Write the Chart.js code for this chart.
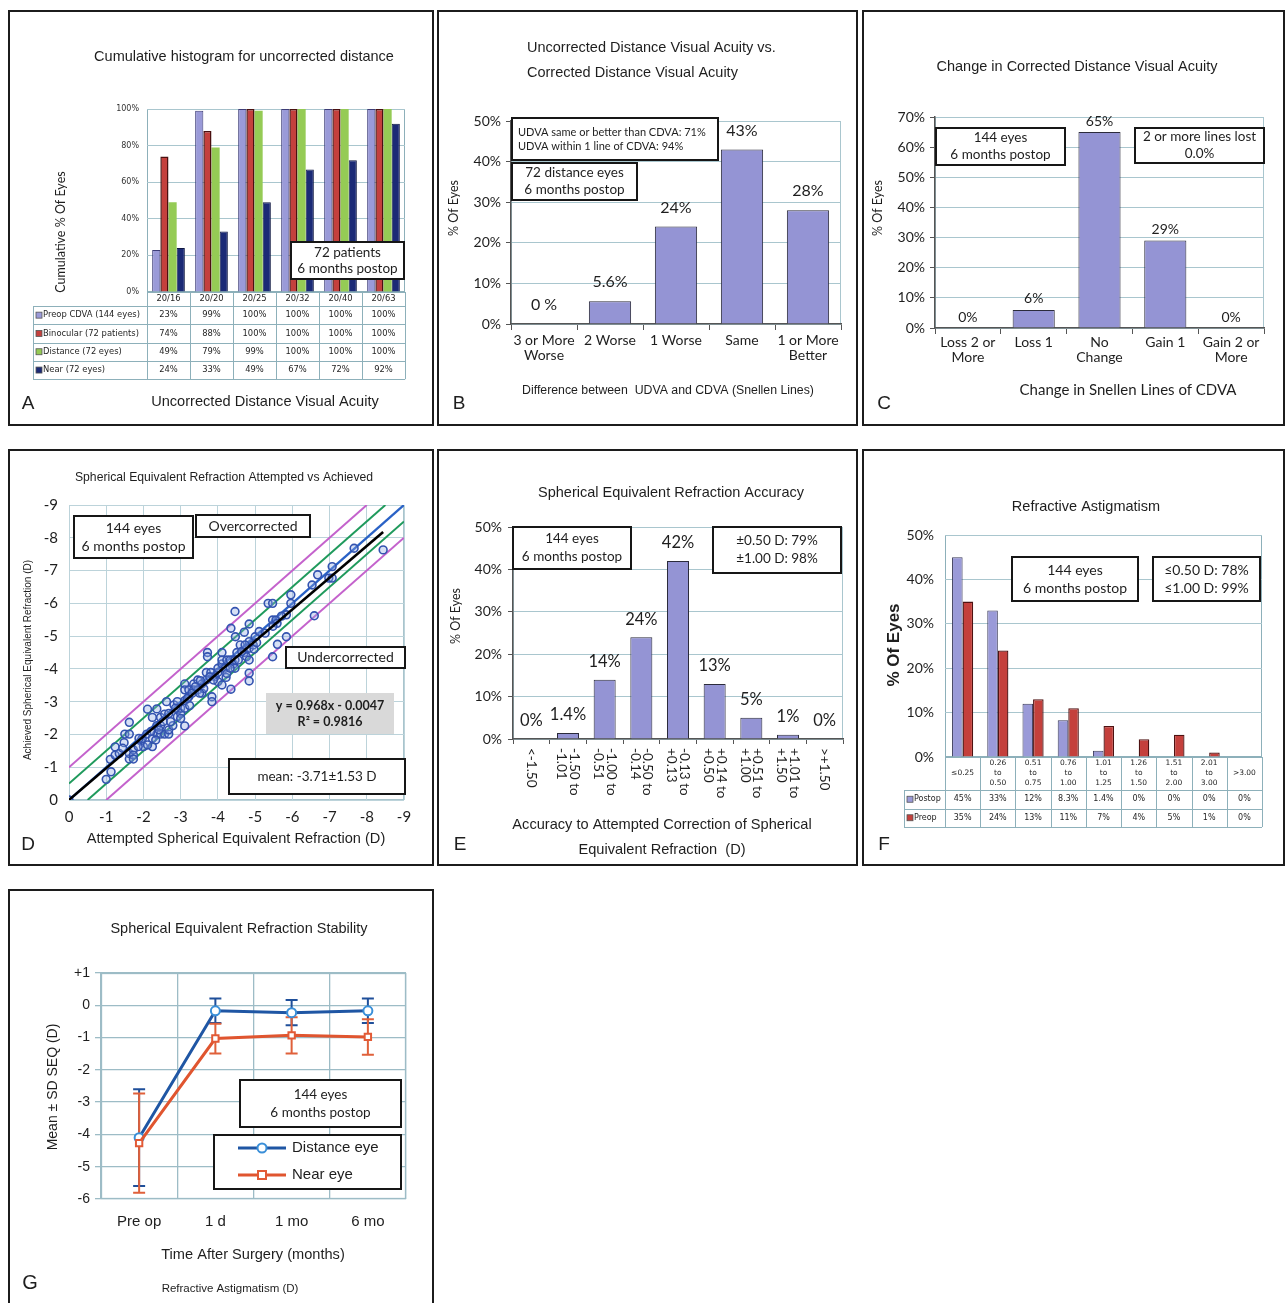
<!DOCTYPE html>
<html>
<head>
<meta charset="utf-8">
<script src="https://cdn.jsdelivr.net/npm/chart.js@4.4.1/dist/chart.umd.min.js"></script>
<style>
  html, body { margin: 0; padding: 0; background: #fff; }
  #page { position: relative; width: 1285px; height: 1303px; overflow: hidden; background: #fff; }
  .panel { position: absolute; box-sizing: border-box; border: 2px solid #1c1c1c; background: #fff; }
  canvas.chart { position: absolute; }
</style>
</head>
<body>
<div id="page"></div>
<script>
// ---------- A: cumulative uncorrected distance acuity ----------
const acuityLines   = ['20/16', '20/20', '20/25', '20/32', '20/40', '20/63'];
const preopCdva     = [23, 99, 100, 100, 100, 100];
const binocular     = [74, 88, 100, 100, 100, 100];
const distanceEyes  = [49, 79, 99, 100, 100, 100];
const nearEyes      = [24, 33, 49, 67, 72, 92];

// ---------- B: UDVA vs CDVA ----------
const lineDiffLabels = [['3 or More', 'Worse'], '2 Worse', '1 Worse', 'Same', ['1 or More', 'Better']];
const lineDiffPct    = [0, 5.6, 24, 43, 28];
const lineDiffText   = ['0 %', '5.6%', '24%', '43%', '28%'];

// ---------- C: change in CDVA ----------
const cdvaChangeLabels = [['Loss 2 or', 'More'], 'Loss 1', ['No', 'Change'], 'Gain 1', ['Gain 2 or', 'More']];
const cdvaChangePct    = [0, 6, 65, 29, 0];

// ---------- D: attempted vs achieved SE (D) ----------
const seAttempted = [
  0, -1.00, -1.13, -1.11, -1.24, -1.24, -1.35, -1.48, -1.50, -1.62, -1.62, -1.62, -1.62, -1.73, -1.73, -1.73,
  -1.44, -1.93, -2.00, -1.97, -2.09, -2.11, -2.24, -2.24, -2.24, -2.36, -2.36, -2.36, -2.46, -2.46, -2.46, -2.57,
  -2.57, -2.68, -2.68, -2.68, -2.79, -2.62, -2.82, -2.91, -2.91, -3.00, -3.00, -3.00, -3.11, -3.11, -3.11, -3.11,
  -3.11, -3.22, -3.22, -3.35, -3.35, -3.24, -3.46, -3.46, -3.57, -3.57, -3.62, -3.69, -3.69, -3.72, -3.72, -3.81,
  -3.84, -3.84, -3.93, -4.00, -4.00, -4.00, -4.11, -4.11, -4.11, -4.11, -4.20, -4.22, -4.24, -4.33, -4.35, -4.35,
  -4.42, -4.46, -4.46, -4.47, -4.46, -4.51, -4.60, -4.71, -4.71, -4.77, -4.84, -4.84, -4.84, -4.84, -4.84, -4.84,
  -4.95, -4.97, -5.00, -5.11, -5.35, -5.47, -5.47, -5.47, -5.56, -5.59, -5.60, -5.84, -5.84, -5.96, -5.96, -6.53,
  -6.59, -6.68, -6.98, -7.07, -7.07, -7.66, -8.44, -2.20, -2.33, -2.11, -1.88, -1.86, -2.42, -2.53, -2.73, -2.86,
  -3.18, -3.31, -3.40, -3.53, -3.51, -3.78, -3.88, -4.24, -4.33, -4.55, -4.64, -4.73, -5.04, -5.27, -5.48, -5.71
];
const seAchieved = [
  0, -0.63, -0.86, -1.24, -1.37, -1.62, -1.42, -1.75, -2.01, -2.01, -2.37, -1.25, -1.42, -1.53, -1.37, -1.25,
  -1.58, -1.80, -1.63, -1.88, -2.01, -2.77, -1.63, -1.88, -2.52, -2.01, -2.78, -2.27, -2.01, -2.27, -2.52, -2.01,
  -2.62, -2.01, -2.14, -2.64, -2.27, -3.00, -2.90, -2.54, -3.00, -2.64, -2.80, -2.49, -3.03, -2.80, -2.26, -3.54,
  -3.36, -3.36, -3.15, -3.54, -3.36, -2.88, -3.36, -3.66, -3.26, -3.54, -3.40, -3.66, -3.89, -4.50, -4.37, -3.89,
  -3.15, -3.00, -3.76, -3.89, -4.02, -3.61, -3.51, -4.15, -4.27, -4.50, -4.02, -3.74, -4.27, -4.27, -5.24, -3.38,
  -4.15, -4.02, -5.75, -4.98, -4.27, -4.50, -4.73, -5.12, -4.50, -4.37, -5.37, -4.83, -4.63, -4.27, -3.87, -3.63,
  -4.73, -4.60, -4.98, -5.14, -6.00, -6.00, -5.49, -4.37, -5.49, -5.39, -4.75, -5.65, -4.98, -6.00, -6.26, -6.56,
  -5.62, -6.87, -6.77, -7.12, -6.77, -7.68, -7.63, -2.09, -1.83, -1.68, -1.88, -1.63, -2.14, -2.39, -2.39, -2.80,
  -3.10, -3.26, -3.46, -3.64, -3.26, -3.76, -3.66, -3.86, -4.02, -4.27, -4.53, -4.73, -4.80, -5.09, -5.30, -5.61
];
const regressionSlope = 0.968;
const regressionIntercept = -0.0047;
const rSquared = 0.9816;
const toleranceBands = [0.5, 1.0];   // ±D around the identity line

// ---------- E: SE accuracy ----------
const accuracyBins = [['<-1.50'], ['-1.50 to', '-1.01'], ['-1.00 to', '-0.51'], ['-0.50 to', '-0.14'],
  ['-0.13 to', '+0.13'], ['+0.14 to', '+0.50'], ['+0.51 to', '+1.00'], ['+1.01 to', '+1.50'], ['>+1.50']];
const accuracyPct = [0, 1.4, 14, 24, 42, 13, 5, 1, 0];

// ---------- F: refractive astigmatism ----------
const astigBins = [['≤0.25'], ['0.26', 'to', '0.50'], ['0.51', 'to', '0.75'], ['0.76', 'to', '1.00'],
  ['1.01', 'to', '1.25'], ['1.26', 'to', '1.50'], ['1.51', 'to', '2.00'], ['2.01', 'to', '3.00'], ['>3.00']];
const astigPostop = [45, 33, 12, 8.3, 1.4, 0, 0, 0, 0];
const astigPreop  = [35, 24, 13, 11, 7, 4, 5, 1, 0];

// ---------- G: SE stability ----------
const timePoints = ['Pre op', '1 d', '1 mo', '6 mo'];
const distMean = [-4.1, -0.17, -0.23, -0.17];
const distSD   = [1.5, 0.38, 0.39, 0.38];
const nearMean = [-4.27, -1.03, -0.93, -0.98];
const nearSD   = [1.54, 0.46, 0.56, 0.55];

// ================= layout & helpers =================
const LATO = 'Lato, "Open Sans", sans-serif';
const ARIAL = '"Liberation Sans", Arial, sans-serif';
const DJV = '"DejaVu Sans", sans-serif';
const INK = '#1e1e1e';
const GRID = '#a9c6ce';
const AXIS = '#555';
const LAV = '#9494d4';
const TITLE = '14.5px ' + ARIAL;

const PANELS = {
  A: {x: 8,   y: 10,  w: 426, h: 416},
  B: {x: 437, y: 10,  w: 421, h: 416},
  C: {x: 862, y: 10,  w: 423, h: 416},
  D: {x: 8,   y: 449, w: 426, h: 417},
  E: {x: 437, y: 449, w: 421, h: 417},
  F: {x: 862, y: 449, w: 423, h: 417},
  G: {x: 8,   y: 889, w: 426, h: 420}
};
const AREAS = {
  A: {l: 147, t: 109, r: 405,  b: 292},
  B: {l: 511, t: 121, r: 841,  b: 324},
  C: {l: 935, t: 117, r: 1264, b: 328},
  D: {l: 69,  t: 505, r: 404,  b: 800},
  E: {l: 513, t: 527, r: 843,  b: 739},
  F: {l: 945, t: 535, r: 1262, b: 757},
  G: {l: 101, t: 973, r: 406,  b: 1199}
};

Chart.defaults.font.family = LATO;
Chart.defaults.color = INK;

function makePanel(key) {
  const p = PANELS[key];
  const page = document.getElementById('page');
  const div = document.createElement('div');
  div.className = 'panel';
  Object.assign(div.style, {left: p.x + 'px', top: p.y + 'px', width: p.w + 'px', height: p.h + 'px'});
  page.appendChild(div);
  const cv = document.createElement('canvas');
  cv.className = 'chart';
  cv.width = p.w; cv.height = p.h;
  Object.assign(cv.style, {left: p.x + 'px', top: p.y + 'px', width: p.w + 'px', height: p.h + 'px'});
  page.appendChild(cv);
  return cv;
}
function zeroPad(s) { s.paddingLeft = 0; s.paddingRight = 0; s.paddingTop = 0; s.paddingBottom = 0; }
function layoutFor(key) {
  const p = PANELS[key], a = AREAS[key];
  return {padding: {left: 0, top: a.t - p.y, right: (p.x + p.w) - a.r, bottom: 0}};
}
function fitY(key) { const p = PANELS[key], a = AREAS[key]; return s => { s.width = a.l - p.x; zeroPad(s); }; }
function fitX(key) { const p = PANELS[key], a = AREAS[key]; return s => { s.height = (p.y + p.h) - a.b; zeroPad(s); }; }

function drawText(ctx, t, ox, oy) {
  ctx.save();
  ctx.font = t.font || TITLE;
  ctx.fillStyle = t.color || INK;
  ctx.textAlign = t.align || 'center';
  ctx.textBaseline = 'middle';
  ctx.translate(t.x - ox, t.y - oy);
  if (t.rot) ctx.rotate(t.rot * Math.PI / 180);
  ctx.fillText(t.t, 0, 0);
  ctx.restore();
}
function drawBox(ctx, b, ox, oy) {
  ctx.save();
  const x = b.x - ox, y = b.y - oy;
  ctx.fillStyle = b.fill || '#fff';
  ctx.fillRect(x, y, b.w, b.h);
  if (b.border !== false) {
    ctx.lineWidth = 2; ctx.strokeStyle = '#161616';
    ctx.strokeRect(x, y, b.w, b.h);
  }
  ctx.fillStyle = INK;
  ctx.font = b.font || ('13.5px ' + LATO);
  ctx.textAlign = b.align || 'center'; ctx.textBaseline = 'middle';
  const tx = b.align === 'left' ? x + (b.inset || 6) : x + b.w / 2;
  const n = b.lines.length, lh = b.lh || 17;
  b.lines.forEach((s, i) => ctx.fillText(s, tx, y + b.h / 2 + (i - (n - 1) / 2) * lh));
  ctx.restore();
}
// per-chart decoration plugin: plot frame, free text, annotation boxes and custom layers
function deco(key, spec) {
  const p = PANELS[key];
  return {
    id: 'deco' + key,
    beforeDraw(chart) {
      if (!spec.frame) return;
      const a = chart.chartArea, ctx = chart.ctx;
      ctx.save(); ctx.strokeStyle = spec.frame; ctx.lineWidth = spec.frameWidth || 1;
      ctx.strokeRect(Math.round(a.left) + 0.5, Math.round(a.top) + 0.5, Math.round(a.width) - 1, Math.round(a.height) - 1);
      ctx.restore();
    },
    beforeDatasetsDraw(chart) { if (spec.under) spec.under(chart, chart.ctx); },
    afterDatasetsDraw(chart) { if (spec.over) spec.over(chart, chart.ctx); },
    afterDraw(chart) {
      const ctx = chart.ctx;
      (spec.boxes || []).forEach(b => drawBox(ctx, b, p.x, p.y));
      (spec.texts || []).forEach(t => drawText(ctx, t, p.x, p.y));
      if (spec.last) spec.last(chart, ctx, p.x, p.y);
    }
  };
}
function barValueLabels(chart, ctx, dsIndex, texts, font, offset) {
  const meta = chart.getDatasetMeta(dsIndex);
  ctx.save();
  ctx.font = font; ctx.fillStyle = INK; ctx.textAlign = 'center'; ctx.textBaseline = 'middle';
  meta.data.forEach((bar, i) => ctx.fillText(texts[i], bar.x, bar.y - offset));
  ctx.restore();
}
// data table under a category axis, rows taken from the chart's datasets
function dataTable(chart, ctx, t, ox, oy) {
  const xs = chart.scales.x, a = chart.chartArea;
  const labels = chart.data.labels, n = labels.length;
  const cw = (xs.right - xs.left) / n;
  const left = t.left - ox, headTop = a.bottom, bodyTop = t.bodyTop - oy, rowH = t.rowH;
  const sets = chart.data.datasets;
  const bottom = bodyTop + rowH * sets.length;
  ctx.save();
  ctx.strokeStyle = t.line; ctx.lineWidth = 1;
  ctx.beginPath();
  for (let i = 0; i <= n; i++) {
    const x = Math.round(xs.left + i * cw) + 0.5;
    ctx.moveTo(x, headTop); ctx.lineTo(x, bottom);
  }
  ctx.moveTo(Math.round(left) + 0.5, bodyTop); ctx.lineTo(Math.round(left) + 0.5, bottom);
  for (let r = 0; r <= sets.length; r++) {
    const y = Math.round(bodyTop + r * rowH) + 0.5;
    ctx.moveTo(left, y); ctx.lineTo(xs.right, y);
  }
  ctx.moveTo(xs.left, Math.round(headTop) + 0.5); ctx.lineTo(xs.right, Math.round(headTop) + 0.5);
  ctx.stroke();
  ctx.fillStyle = INK; ctx.textBaseline = 'middle'; ctx.textAlign = 'center';
  ctx.font = t.headFont;
  labels.forEach((lab, i) => {
    const lines = Array.isArray(lab) ? lab : [lab];
    const cx = xs.left + (i + 0.5) * cw, cy = (headTop + bodyTop) / 2;
    lines.forEach((s, k) => ctx.fillText(s, cx, cy + (k - (lines.length - 1) / 2) * t.headLH));
  });
  ctx.font = t.font;
  sets.forEach((ds, r) => {
    const cy = bodyTop + (r + 0.5) * rowH;
    ctx.fillStyle = ds.backgroundColor;
    ctx.fillRect(left + 3, cy - 3, 6, 6);
    ctx.strokeStyle = t.keyEdge; ctx.lineWidth = 0.8;
    ctx.strokeRect(left + 3, cy - 3, 6, 6);
    ctx.fillStyle = INK; ctx.textAlign = 'left';
    ctx.fillText(ds.label, left + 10, cy);
    ctx.textAlign = 'center';
    ds.data.forEach((v, i) => ctx.fillText(v + '%', xs.left + (i + 0.5) * cw, cy));
  });
  ctx.restore();
}

const pct = v => v + '%';
const baseOpts = key => ({
  responsive: false, animation: false, devicePixelRatio: 1,
  layout: layoutFor(key),
  plugins: {legend: {display: false}, tooltip: {enabled: false}, title: {display: false}}
});

// ================= A =================
(function () {
  const key = 'A';
  new Chart(makePanel(key), {
    type: 'bar',
    data: {
      labels: acuityLines,
      datasets: [
        {label: 'Preop CDVA (144 eyes)', data: preopCdva, backgroundColor: '#9a9ad8', borderColor: '#3d3d78', borderWidth: 1},
        {label: 'Binocular (72 patients)', data: binocular, backgroundColor: '#c4403d', borderColor: '#4a1010', borderWidth: 1.5},
        {label: 'Distance (72 eyes)', data: distanceEyes, backgroundColor: '#95cb55', borderWidth: 0},
        {label: 'Near (72 eyes)', data: nearEyes, backgroundColor: '#1b2a76', borderColor: '#0d1640', borderWidth: 1}
      ]
    },
    options: Object.assign(baseOpts(key), {
      datasets: {bar: {categoryPercentage: 0.76, barPercentage: 1.0}},
      scales: {
        x: {offset: true, grid: {display: false}, border: {display: false}, ticks: {display: false}, afterFit: fitX(key)},
        y: {min: 0, max: 100, grid: {color: GRID, drawTicks: false}, border: {display: false},
            ticks: {stepSize: 20, callback: pct, padding: 8, font: {family: DJV, size: 8}, color: '#333'},
            afterFit: fitY(key)}
      }
    }),
    plugins: [deco(key, {
      frame: '#8db0ba',
      texts: [
        {t: 'Cumulative histogram for uncorrected distance', x: 244, y: 57},
        {t: 'Cumulative % Of Eyes', x: 61, y: 232, rot: -90, font: '12.5px ' + LATO},
        {t: 'Uncorrected Distance Visual Acuity', x: 265, y: 402, font: '14.6px ' + ARIAL},
        {t: 'A', x: 28, y: 404, font: '19px ' + ARIAL}
      ],
      boxes: [
        {x: 291, y: 242, w: 113, h: 37, lines: ['72 patients', '6 months postop'], lh: 16, font: '13.5px ' + LATO}
      ],
      last: (chart, ctx, ox, oy) => dataTable(chart, ctx, {
        left: 33, bodyTop: 306, rowH: 18.3, line: '#8db0ba', keyEdge: '#555',
        headFont: '8.4px ' + DJV, headLH: 10, font: '8.4px ' + DJV
      }, ox, oy)
    })]
  });
})();

// ================= B =================
(function () {
  const key = 'B';
  new Chart(makePanel(key), {
    type: 'bar',
    data: {labels: lineDiffLabels, datasets: [{data: lineDiffPct, backgroundColor: LAV, borderColor: '#2b2b3b', borderWidth: 1}]},
    options: Object.assign(baseOpts(key), {
      datasets: {bar: {categoryPercentage: 0.64, barPercentage: 1.0}},
      scales: {
        x: {offset: true, grid: {offset: true, drawOnChartArea: false, tickLength: 6, color: AXIS},
            border: {color: AXIS, width: 1.5},
            ticks: {font: {family: 'Lato', size: 14, lineHeight: 1.08}, color: INK, padding: 3, maxRotation: 0, autoSkip: false},
            afterFit: fitX(key)},
        y: {min: 0, max: 50, grid: {color: GRID, tickColor: AXIS, tickLength: 5}, border: {color: AXIS, width: 1.5},
            ticks: {stepSize: 10, callback: pct, padding: 5, font: {family: 'Lato', size: 14}, color: INK},
            afterFit: fitY(key)}
      }
    }),
    plugins: [deco(key, {
      frame: GRID,
      over: (chart, ctx) => barValueLabels(chart, ctx, 0, lineDiffText, '16px ' + LATO, 19),
      texts: [
        {t: 'Uncorrected Distance Visual Acuity vs.', x: 527, y: 48, align: 'left'},
        {t: 'Corrected Distance Visual Acuity', x: 527, y: 73, align: 'left'},
        {t: '% Of Eyes', x: 454, y: 208, rot: -90, font: '12.5px ' + LATO},
        {t: 'Difference between  UDVA and CDVA (Snellen Lines)', x: 668, y: 391, font: '12.3px ' + ARIAL},
        {t: 'B', x: 459, y: 404, font: '19px ' + ARIAL}
      ],
      boxes: [
        {x: 512, y: 118, w: 206, h: 42, align: 'left', inset: 6,
         lines: ['UDVA same or better than CDVA: 71%', 'UDVA within 1 line of CDVA: 94%'], lh: 14, font: '11px ' + LATO},
        {x: 512, y: 163, w: 125, h: 37, lines: ['72 distance eyes', '6 months postop'], lh: 17, font: '13.5px ' + LATO}
      ]
    })]
  });
})();

// ================= C =================
(function () {
  const key = 'C';
  new Chart(makePanel(key), {
    type: 'bar',
    data: {labels: cdvaChangeLabels, datasets: [{data: cdvaChangePct, backgroundColor: LAV, borderColor: '#2b2b3b', borderWidth: 1}]},
    options: Object.assign(baseOpts(key), {
      datasets: {bar: {categoryPercentage: 0.64, barPercentage: 1.0}},
      scales: {
        x: {offset: true, grid: {offset: true, drawOnChartArea: false, tickLength: 6, color: AXIS},
            border: {color: AXIS, width: 1.5},
            ticks: {font: {family: 'Lato', size: 14, lineHeight: 1.08}, color: INK, padding: 1, maxRotation: 0, autoSkip: false},
            afterFit: fitX(key)},
        y: {min: 0, max: 70, grid: {color: GRID, tickColor: AXIS, tickLength: 5}, border: {color: AXIS, width: 1.5},
            ticks: {stepSize: 10, callback: pct, padding: 5, font: {family: 'Lato', size: 14}, color: INK},
            afterFit: fitY(key)}
      }
    }),
    plugins: [deco(key, {
      frame: GRID,
      over: (chart, ctx) => barValueLabels(chart, ctx, 0, cdvaChangePct.map(pct), '14px ' + LATO, 11),
      texts: [
        {t: 'Change in Corrected Distance Visual Acuity', x: 1077, y: 67},
        {t: '% Of Eyes', x: 878, y: 208, rot: -90, font: '12.5px ' + LATO},
        {t: 'Change in Snellen Lines of CDVA', x: 1128, y: 390, font: '15px ' + LATO},
        {t: 'C', x: 884, y: 404, font: '19px ' + ARIAL}
      ],
      boxes: [
        {x: 936, y: 128, w: 129, h: 37, lines: ['144 eyes', '6 months postop'], lh: 17, font: '13.5px ' + LATO},
        {x: 1135, y: 128, w: 129, h: 35, lines: ['2 or more lines lost', '0.0%'], lh: 17, font: '13.5px ' + LATO}
      ]
    })]
  });
})();

// ================= D =================
(function () {
  const key = 'D';
  const points = seAttempted.map((x, i) => ({x, y: seAchieved[i]}));
  const lo = -9, hi = 0;
  // straight reference line y = x + shift, clipped to the plotted square
  const shifted = s => {
    const x0 = Math.min(hi, hi - s), x1 = Math.max(lo, lo - s);
    return [{x: x0, y: x0 + s}, {x: x1, y: x1 + s}];
  };
  const xMin = Math.min(...seAttempted);
  const regLine = [0, xMin].map(x => ({x, y: regressionSlope * x + regressionIntercept}));
  const lineDs = (data, color, width, order) => ({data, showLine: true, borderColor: color, borderWidth: width, pointRadius: 0, order});
  const MAG = '#c462cc', GRN = '#1f9a5c';
  new Chart(makePanel(key), {
    type: 'scatter',
    data: {
      datasets: [
        lineDs(regLine, '#000', 2.6, 0),
        {data: points, pointRadius: 3.9, pointBorderWidth: 1.6, pointBorderColor: '#3353b0',
         pointBackgroundColor: 'rgba(140,165,225,0.35)', order: 1},
        lineDs(shifted(0), '#2a62c6', 2.4, 2),
        lineDs(shifted(-toleranceBands[0]), GRN, 2, 3),
        lineDs(shifted(toleranceBands[0]), GRN, 2, 3),
        lineDs(shifted(-toleranceBands[1]), MAG, 2, 4),
        lineDs(shifted(toleranceBands[1]), MAG, 2, 4)
      ]
    },
    options: Object.assign(baseOpts(key), {
      scales: {
        x: {type: 'linear', min: lo, max: hi, reverse: true, grid: {color: '#bcd3da', drawTicks: false}, border: {display: false},
            ticks: {stepSize: 1, callback: v => String(v), padding: 8, font: {family: 'Lato', size: 15}, color: INK},
            afterFit: fitX(key)},
        y: {type: 'linear', min: lo, max: hi, reverse: true, grid: {color: '#bcd3da', drawTicks: false}, border: {display: false},
            ticks: {stepSize: 1, callback: v => String(v), padding: 11, font: {family: 'Lato', size: 15}, color: INK},
            afterFit: fitY(key)}
      }
    }),
    plugins: [deco(key, {
      frame: '#a9c4cc',
      texts: [
        {t: 'Spherical Equivalent Refraction Attempted vs Achieved', x: 224, y: 478, font: '12.2px ' + ARIAL},
        {t: 'Achieved Spherical Equivalent Refraction (D)', x: 28, y: 660, rot: -90, font: '10px ' + ARIAL},
        {t: 'Attempted Spherical Equivalent Refraction (D)', x: 236, y: 839, font: '14.6px ' + ARIAL},
        {t: 'D', x: 28, y: 845, font: '19px ' + ARIAL}
      ],
      boxes: [
        {x: 74, y: 516, w: 119, h: 42, lines: ['144 eyes', '6 months postop'], lh: 18, font: '14px ' + LATO},
        {x: 196, y: 515, w: 114, h: 22, lines: ['Overcorrected'], font: '14px ' + LATO},
        {x: 286, y: 647, w: 119, h: 21, lines: ['Undercorrected'], font: '14px ' + LATO},
        {x: 266, y: 693, w: 128, h: 41, fill: '#d9d9d9', border: false,
         lines: ['y = ' + regressionSlope + 'x - ' + Math.abs(regressionIntercept), 'R² = ' + rSquared], lh: 16, font: 'bold 12.5px ' + LATO},
        {x: 229, y: 759, w: 176, h: 35, lines: ['mean: -3.71±1.53 D'], font: '13.5px ' + LATO}
      ]
    })]
  });
})();

// ================= E =================
(function () {
  const key = 'E';
  const rotatedLabels = (chart, ctx, ox, oy) => {
    const xs = chart.scales.x;
    ctx.save();
    ctx.font = '13.5px ' + LATO; ctx.fillStyle = INK; ctx.textAlign = 'left'; ctx.textBaseline = 'middle';
    accuracyBins.forEach((lines, i) => {
      const x = xs.getPixelForValue(i);
      ctx.save();
      ctx.translate(x, 748 - oy);
      ctx.rotate(Math.PI / 2);
      lines.forEach((s, k) => ctx.fillText(s, 0, (k - (lines.length - 1) / 2) * 12.5));
      ctx.restore();
    });
    ctx.restore();
  };
  new Chart(makePanel(key), {
    type: 'bar',
    data: {labels: accuracyBins.map(l => l.join(' ')), datasets: [{data: accuracyPct, backgroundColor: LAV, borderColor: '#2b2b3b', borderWidth: 1}]},
    options: Object.assign(baseOpts(key), {
      datasets: {bar: {categoryPercentage: 0.6, barPercentage: 1.0}},
      scales: {
        x: {offset: true, grid: {offset: true, drawOnChartArea: false, tickLength: 5, color: AXIS},
            border: {color: AXIS, width: 1.5}, ticks: {display: false}, afterFit: fitX(key)},
        y: {min: 0, max: 50, grid: {color: GRID, tickColor: AXIS, tickLength: 5}, border: {color: AXIS, width: 1.5},
            ticks: {stepSize: 10, callback: pct, padding: 6, font: {family: 'Lato', size: 14}, color: INK},
            afterFit: fitY(key)}
      }
    }),
    plugins: [deco(key, {
      frame: GRID,
      over: (chart, ctx) => barValueLabels(chart, ctx, 0, accuracyPct.map(pct), '16.5px ' + LATO, 18),
      texts: [
        {t: 'Spherical Equivalent Refraction Accuracy', x: 671, y: 493},
        {t: '% Of Eyes', x: 456, y: 616, rot: -90, font: '12.5px ' + LATO},
        {t: 'Accuracy to Attempted Correction of Spherical', x: 662, y: 825, font: '14.6px ' + ARIAL},
        {t: 'Equivalent Refraction  (D)', x: 662, y: 850, font: '14.6px ' + ARIAL},
        {t: 'E', x: 460, y: 845, font: '19px ' + ARIAL}
      ],
      boxes: [
        {x: 513, y: 527, w: 118, h: 42, lines: ['144 eyes', '6 months postop'], lh: 18, font: '13.5px ' + LATO},
        {x: 713, y: 527, w: 128, h: 46, lines: ['±0.50 D: 79%', '±1.00 D: 98%'], lh: 18, font: '13.5px ' + LATO}
      ],
      last: rotatedLabels
    })]
  });
})();

// ================= F =================
(function () {
  const key = 'F';
  new Chart(makePanel(key), {
    type: 'bar',
    data: {
      labels: astigBins,
      datasets: [
        {label: 'Postop', data: astigPostop, backgroundColor: '#9a9ad8', borderColor: '#3a3a5a', borderWidth: 1},
        {label: 'Preop', data: astigPreop, backgroundColor: '#c4403c', borderColor: '#4e1212', borderWidth: 1.3}
      ]
    },
    options: Object.assign(baseOpts(key), {
      datasets: {bar: {categoryPercentage: 0.6, barPercentage: 1.0}},
      scales: {
        x: {offset: true, grid: {display: false}, border: {display: false}, ticks: {display: false}, afterFit: fitX(key)},
        y: {min: 0, max: 50, grid: {color: GRID, drawTicks: false}, border: {display: false},
            ticks: {stepSize: 10, callback: pct, padding: 11, font: {family: 'Lato', size: 14}, color: INK},
            afterFit: fitY(key)}
      }
    }),
    plugins: [deco(key, {
      frame: '#8db0ba',
      texts: [
        {t: 'Refractive Astigmatism', x: 1086, y: 507},
        {t: '% Of Eyes', x: 894, y: 645, rot: -90, font: 'bold 17px ' + ARIAL},
        {t: 'F', x: 884, y: 845, font: '19px ' + ARIAL}
      ],
      boxes: [
        {x: 1012, y: 557, w: 126, h: 44, lines: ['144 eyes', '6 months postop'], lh: 18, font: '14px ' + LATO},
        {x: 1153, y: 557, w: 107, h: 44, lines: ['≤0.50 D: 78%', '≤1.00 D: 99%'], lh: 18, font: '14px ' + LATO}
      ],
      last: (chart, ctx, ox, oy) => dataTable(chart, ctx, {
        left: 904, bodyTop: 790, rowH: 18.5, line: '#8db0ba', keyEdge: '#555',
        headFont: '7.5px ' + DJV, headLH: 10, font: '8px ' + DJV
      }, ox, oy)
    })]
  });
})();

// ================= G =================
(function () {
  const key = 'G';
  const BLUE = '#1f56a4', RED = '#e0552f';
  const errorBars = (chart, ctx) => {
    const ys = chart.scales.y;
    [[1, distMean, distSD, '#1f4f9a'], [0, nearMean, nearSD, '#e0603a']].forEach(([ds, m, sd, color]) => {
      const meta = chart.getDatasetMeta(ds);
      ctx.save(); ctx.strokeStyle = color; ctx.lineWidth = 2;
      meta.data.forEach((pt, i) => {
        const x = pt.x, y1 = ys.getPixelForValue(m[i] + sd[i]), y2 = ys.getPixelForValue(m[i] - sd[i]);
        ctx.beginPath();
        ctx.moveTo(x, y1); ctx.lineTo(x, y2);
        ctx.moveTo(x - 6, y1); ctx.lineTo(x + 6, y1);
        ctx.moveTo(x - 6, y2); ctx.lineTo(x + 6, y2);
        ctx.stroke();
      });
      ctx.restore();
    });
  };
  const legend = (chart, ctx, ox, oy) => {
    const bx = 214 - ox, by = 1135 - oy, bw = 187, bh = 54;
    ctx.save();
    ctx.fillStyle = '#fff'; ctx.fillRect(bx, by, bw, bh);
    ctx.lineWidth = 2; ctx.strokeStyle = '#161616'; ctx.strokeRect(bx, by, bw, bh);
    const rows = [[1, 1148], [0, 1175]];
    rows.forEach(([di, y]) => {
      const ds = chart.data.datasets[di];
      const yy = y - oy, x1 = 238 - ox, x2 = 286 - ox, cx = (x1 + x2) / 2;
      ctx.strokeStyle = ds.borderColor; ctx.lineWidth = 3;
      ctx.beginPath(); ctx.moveTo(x1, yy); ctx.lineTo(x2, yy); ctx.stroke();
      ctx.fillStyle = '#fff'; ctx.strokeStyle = ds.pointBorderColor; ctx.lineWidth = 2;
      ctx.beginPath();
      if (ds.pointStyle === 'rect') ctx.rect(cx - 4, yy - 4, 8, 8); else ctx.arc(cx, yy, 4.5, 0, Math.PI * 2);
      ctx.fill(); ctx.stroke();
      ctx.fillStyle = INK; ctx.font = '15px ' + ARIAL; ctx.textAlign = 'left'; ctx.textBaseline = 'middle';
      ctx.fillText(ds.label, 292 - ox, yy);
    });
    ctx.restore();
  };
  new Chart(makePanel(key), {
    type: 'line',
    data: {
      labels: timePoints,
      datasets: [
        {label: 'Near eye', data: nearMean, borderColor: RED, borderWidth: 3, pointStyle: 'rect', pointRadius: 4.5,
         pointBackgroundColor: '#fff', pointBorderColor: '#e25a36', pointBorderWidth: 2, tension: 0, order: 0},
        {label: 'Distance eye', data: distMean, borderColor: BLUE, borderWidth: 3, pointStyle: 'circle', pointRadius: 4.5,
         pointBackgroundColor: '#fff', pointBorderColor: '#3a8fd8', pointBorderWidth: 2, tension: 0, order: 1}
      ]
    },
    options: Object.assign(baseOpts(key), {
      scales: {
        x: {offset: true, grid: {offset: true, color: '#9dbcc6', lineWidth: 1.3, drawTicks: false}, border: {display: false},
            ticks: {font: {family: '"Liberation Sans"', size: 15}, color: INK, padding: 14},
            afterFit: fitX(key)},
        y: {min: -6, max: 1, grid: {color: '#9dbcc6', lineWidth: 1.3, tickLength: 6}, border: {display: false},
            ticks: {stepSize: 1, callback: v => (v > 0 ? '+' + v : String(v)), padding: 5,
                    font: {family: '"Liberation Sans"', size: 14}, color: INK},
            afterFit: fitY(key)}
      }
    }),
    plugins: [deco(key, {
      frame: '#9dbcc6', frameWidth: 1.3,
      under: errorBars,
      texts: [
        {t: 'Spherical Equivalent Refraction Stability', x: 239, y: 929},
        {t: 'Mean ± SD SEQ (D)', x: 53, y: 1087, rot: -90, font: '14px ' + ARIAL},
        {t: 'Time After Surgery (months)', x: 253, y: 1255, font: '14.6px ' + ARIAL},
        {t: 'G', x: 30, y: 1283, font: '20px ' + ARIAL},
        {t: 'Refractive Astigmatism (D)', x: 230, y: 1289, font: '11.5px ' + ARIAL}
      ],
      boxes: [
        {x: 240, y: 1080, w: 161, h: 47, lines: ['144 eyes', '6 months postop'], lh: 18, font: '13.5px ' + LATO}
      ],
      last: legend
    })]
  });
})();
</script>
</body>
</html>
